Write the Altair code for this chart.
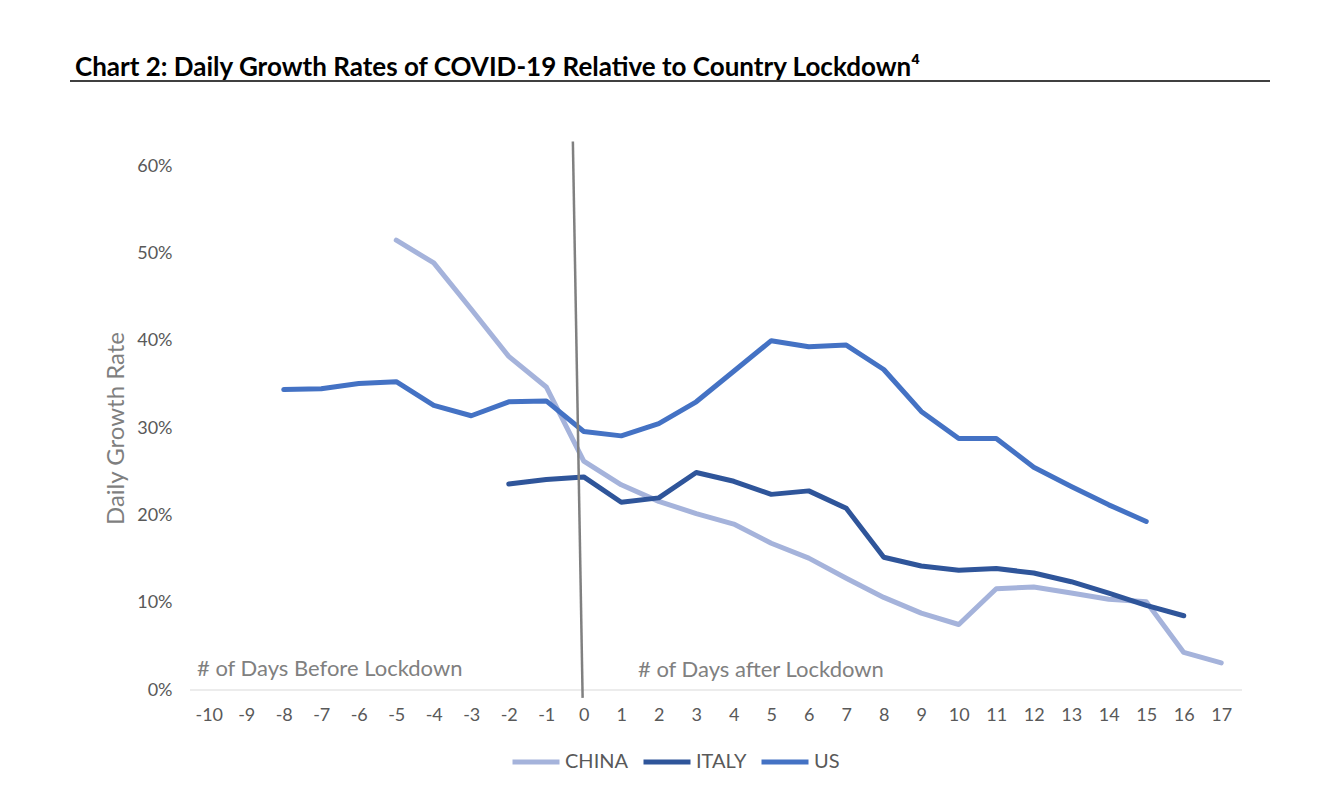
import altair as alt
import pandas as pd

# ---- data ----
china_days = list(range(-5, 18))
china_vals = [51.5, 48.9, 43.6, 38.2, 34.7, 26.2, 23.5, 21.6, 20.2, 19.0, 16.8, 15.1,
              12.8, 10.6, 8.8, 7.5, 11.6, 11.8, 11.1, 10.4, 10.1, 4.3, 3.1]
italy_days = list(range(-2, 17))
italy_vals = [23.6, 24.1, 24.4, 21.5, 22.0, 24.9, 23.9, 22.4, 22.8, 20.8, 15.2, 14.2,
              13.7, 13.9, 13.4, 12.4, 11.1, 9.7, 8.5]
us_days = list(range(-8, 16))
us_vals = [34.4, 34.5, 35.1, 35.3, 32.6, 31.4, 33.0, 33.1, 29.6, 29.1, 30.5, 33.0,
           36.5, 40.0, 39.3, 39.5, 36.7, 31.9, 28.8, 28.8, 25.5, 23.3, 21.2, 19.3]
series_names = ["CHINA", "ITALY", "US"]
series_colors = ["#A5B3DB", "#2F559A", "#4472C4"]
x_ticks = list(range(-10, 18))
y_ticks = [0, 0.1, 0.2, 0.3, 0.4, 0.5, 0.6]

rows = []
for name, days, vals in [("CHINA", china_days, china_vals),
                         ("ITALY", italy_days, italy_vals),
                         ("US", us_days, us_vals)]:
    for d, v in zip(days, vals):
        rows.append({"day": d, "rate": v / 100.0, "country": name})
df = pd.DataFrame(rows)

FONT = "Lato"
W, H = 1050, 524

xs = alt.Scale(domain=[-10.5, 17.5], nice=False, zero=False)
ys = alt.Scale(domain=[0, 0.6], nice=False)

x_axis = alt.Axis(values=x_ticks, title=None, domain=False, ticks=False, grid=False,
                  labelExpr="'' + datum.value", labelOverlap=False, labelFlush=False,
                  labelFont=FONT, labelFontSize=18, labelColor="#595959",
                  labelPadding=16)
y_axis = alt.Axis(values=y_ticks, format=".0%", title="Daily Growth Rate",
                  domain=False, ticks=False, grid=False, labelOverlap=False,
                  labelFont=FONT, labelFontSize=18, labelColor="#595959",
                  labelPadding=18, titleFont=FONT, titleFontSize=24,
                  titleFontWeight="normal", titleColor="#7F7F7F", titlePadding=8)

baseline = alt.Chart(pd.DataFrame({"y": [0]})).mark_rule(
    color="#D9D9D9", strokeWidth=1.2
).encode(y=alt.Y("y:Q", scale=ys, axis=y_axis), x=alt.value(0), x2=alt.value(W + 2))

lines = alt.Chart(df).mark_line(strokeWidth=5, strokeCap="round", strokeJoin="round").encode(
    x=alt.X("day:Q", scale=xs, axis=x_axis),
    y=alt.Y("rate:Q", scale=ys, axis=y_axis),
    color=alt.Color("country:N",
                    scale=alt.Scale(domain=series_names, range=series_colors),
                    legend=alt.Legend(title=None, orient="none", direction="horizontal",
                                      legendX=320, legendY=570, symbolType="stroke",
                                      symbolSize=2209, symbolStrokeWidth=5,
                                      labelFont=FONT, labelFontSize=20,
                                      labelColor="#595959", labelOffset=3,
                                      columnPadding=4)),
)

lock = alt.Chart(pd.DataFrame({"x": [-0.29], "y": [0.628], "x2": [-0.03], "y2": [-0.009]})).mark_rule(
    color="#808080", strokeWidth=2.5
).encode(x=alt.X("x:Q", scale=xs, axis=x_axis), y=alt.Y("y:Q", scale=ys, axis=y_axis),
         x2="x2:Q", y2="y2:Q")

ann_before = alt.Chart(pd.DataFrame({"t": ["# of Days Before Lockdown"]})).mark_text(
    align="left", baseline="alphabetic", font=FONT, fontSize=22, color="#808080"
).encode(text="t:N", x=alt.value(7), y=alt.value(510))

ann_after = alt.Chart(pd.DataFrame({"t": ["# of Days after Lockdown"]})).mark_text(
    align="left", baseline="alphabetic", font=FONT, fontSize=22, color="#808080"
).encode(text="t:N", x=alt.value(448), y=alt.value(511))

title_txt = alt.Chart(pd.DataFrame({"t": ["Chart 2: Daily Growth Rates of COVID-19 Relative to Country Lockdown\u2074"]})).mark_text(
    align="left", baseline="alphabetic", font=FONT, fontSize=26, fontWeight="bold", color="#000000"
).encode(text="t:N", x=alt.value(-115), y=alt.value(-90))

title_rule = alt.Chart(pd.DataFrame({"a": [0]})).mark_rule(color="#000000", strokeWidth=1.5).encode(
    x=alt.value(-120), x2=alt.value(1080), y=alt.value(-85)
)

chart = alt.layer(lines, baseline, lock, ann_before, ann_after, title_txt, title_rule).properties(
    width=W, height=H,
    autosize=alt.AutoSizeParams(type="none"),
    padding={"left": 190, "top": 166, "right": 102, "bottom": 113},
    background="white",
).configure_view(stroke=None)

chart.save("out.html", embed_options={"renderer": "svg", "actions": False})
